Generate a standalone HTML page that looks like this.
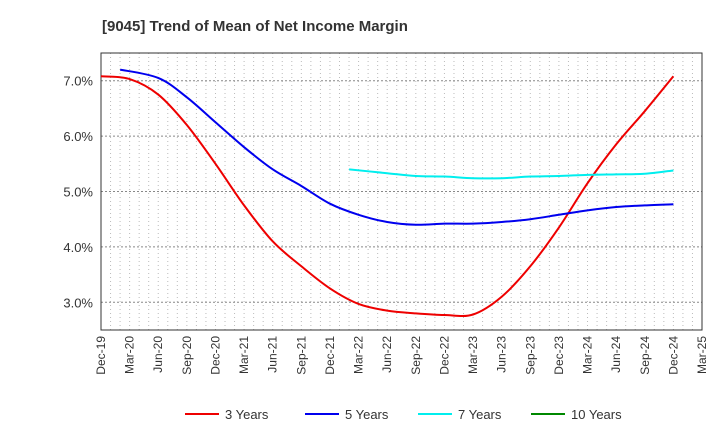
<!DOCTYPE html>
<html><head><meta charset="utf-8"><style>
body{margin:0;background:#fff;font-family:"Liberation Sans",sans-serif}
svg text{font-family:"Liberation Sans",sans-serif}
</style></head><body>
<svg id="c" width="720" height="440">
<text x="102" y="31" font-size="15" font-weight="bold" fill="#333">[9045]  Trend of Mean of Net Income Margin</text>
<g id="grid"></g><g id="axes"></g><g id="series"></g><g id="legend"></g>
</svg>
<script>
const xLabels=["Dec-19","Mar-20","Jun-20","Sep-20","Dec-20","Mar-21","Jun-21","Sep-21","Dec-21","Mar-22","Jun-22","Sep-22","Dec-22","Mar-23","Jun-23","Sep-23","Dec-23","Mar-24","Jun-24","Sep-24","Dec-24","Mar-25"];
const yTicks=[3.0,4.0,5.0,6.0,7.0];
const s3=[7.08,7.03,6.75,6.2,5.5,4.75,4.1,3.65,3.25,2.97,2.85,2.8,2.77,2.78,3.1,3.65,4.35,5.15,5.85,6.45,7.08];
const s5=[null,7.2,7.05,6.7,6.25,5.8,5.4,5.1,4.78,4.58,4.45,4.4,4.42,4.42,4.45,4.5,4.58,4.66,4.72,4.75,4.77];
const s7=[null,null,null,null,null,null,null,null,null,5.4,5.33,5.28,5.27,5.24,5.24,5.27,5.28,5.3,5.31,5.32,5.38];
const s10=[];
const L=101,R=702,T=53,B=330,yMin=2.5,yMax=7.5;
const NS="http://www.w3.org/2000/svg";
const X=q=>L+(R-L)*q/21, Y=v=>B-(B-T)*(v-yMin)/(yMax-yMin);
function mk(tag,attrs,parent){const e=document.createElementNS(NS,tag);for(const k in attrs)e.setAttribute(k,attrs[k]);parent.appendChild(e);return e;}
const grid=document.getElementById('grid'),axes=document.getElementById('axes'),ser=document.getElementById('series'),leg=document.getElementById('legend');
for(let m=1;m<63;m++){const x=L+(R-L)*m/63;const g=mk('line',{x1:x,x2:x,y1:T,y2:B,stroke:'#bbb','stroke-dasharray':'1,3','stroke-width':1},grid);

}
yTicks.forEach(v=>{const g=mk('line',{x1:L,x2:R,y1:Y(v),y2:Y(v),stroke:'#888','stroke-dasharray':'2,2'},grid);


const t=mk('text',{x:L-8,y:Y(v)+5,'text-anchor':'end','font-size':13,fill:'#333'},axes);t.textContent=v.toFixed(1)+'%';

});
const fr=mk('rect',{x:L,y:T,width:R-L,height:B-T,fill:'none',stroke:'#333'},axes);


xLabels.forEach((l,i)=>{const x=X(i);const t=mk('text',{x:0,y:0,'text-anchor':'end','font-size':12,fill:'#333',transform:`translate(${x+4},${B+6}) rotate(-90)`},axes);t.textContent=l;

});
function path(arr,startShift){const p=[];let first=true;arr.forEach((v,i)=>{if(v!=null){p.push([X(first?i-startShift:i),Y(v)]);first=false;}});if(!p.length)return '';let d=`M${p[0][0]},${p[0][1]}`;
for(let i=0;i<p.length-1;i++){const p0=p[i-1]||p[i],p1=p[i],p2=p[i+1],p3=p[i+2]||p2;
d+=` C${p1[0]+(p2[0]-p0[0])/6},${p1[1]+(p2[1]-p0[1])/6} ${p2[0]-(p3[0]-p1[0])/6},${p2[1]-(p3[1]-p1[1])/6} ${p2[0]},${p2[1]}`;}return d;}
const series=[[s3,'#ee0000','3 Years',0],[s5,'#0000ee','5 Years',0.33],[s7,'#00eeee','7 Years',0.33],[s10,'#008800','10 Years',0]];
series.forEach(([a,c,n,sh],i)=>{const d=path(a,sh);if(d){const e=mk('path',{d,fill:'none',stroke:c,'stroke-width':2},ser);

}
const lx=[185,305,418,531][i];
const g=mk('g',{},leg);


mk('line',{x1:lx,x2:lx+34,y1:414,y2:414,stroke:c,'stroke-width':2},g);
const t=mk('text',{x:lx+40,y:419,'font-size':13,fill:'#333'},g);t.textContent=n;});
</script>
</body></html>
